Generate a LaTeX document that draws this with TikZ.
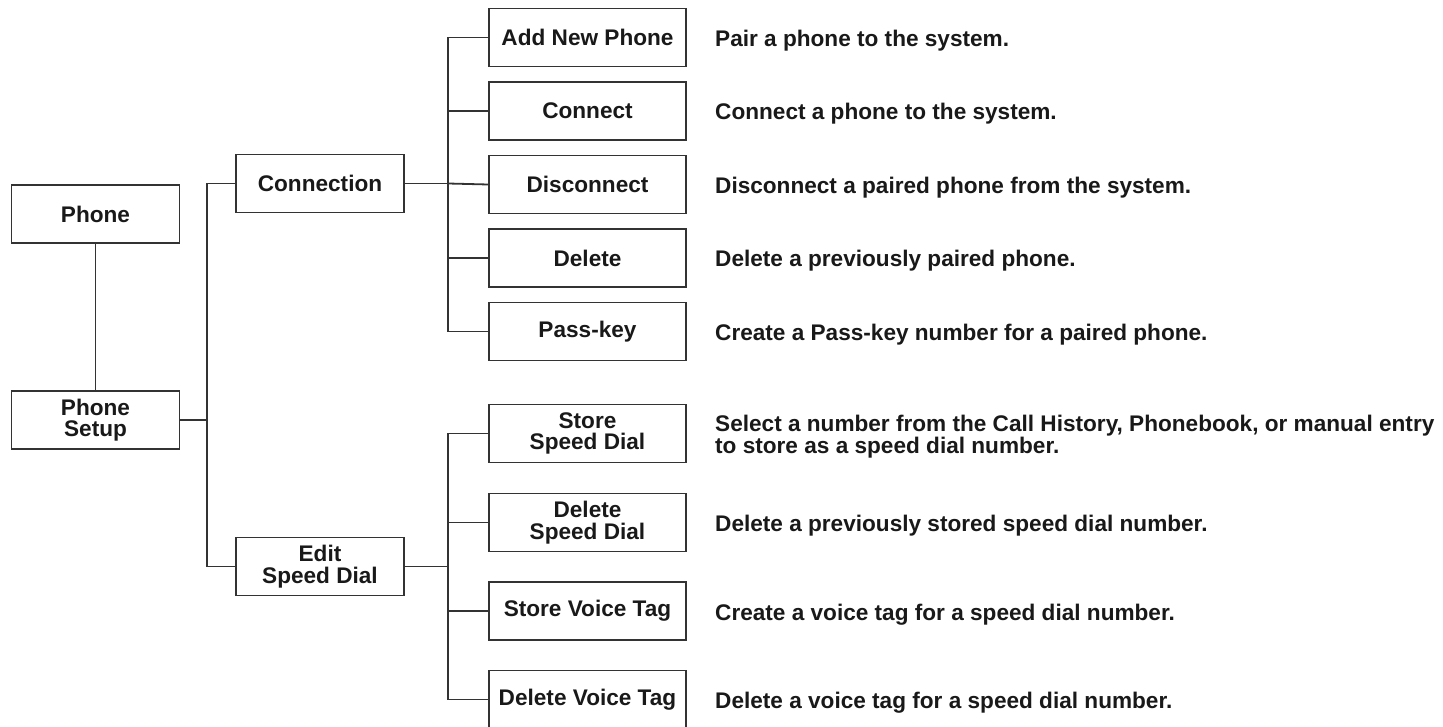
\documentclass[tikz,border=0pt]{standalone}
\usepackage{fontspec}
\setmainfont{Liberation Sans}
\begin{document}
\begin{tikzpicture}[x=1pt,y=-1pt,
  every node/.style={font=\bfseries\fontsize{22.6}{21.5}\selectfont, text=black!90},
  lbox/.style={draw=black!80, line width=1.8pt, minimum width=168pt, minimum height=58pt, align=center, inner sep=0pt},
  cbox/.style={draw=black!80, line width=1.8pt, minimum width=197pt, minimum height=58pt, align=center, inner sep=0pt},
  desc/.style={anchor=base west, align=left, inner sep=0pt},
  conn/.style={draw=black!80, line width=1.8pt}]
\useasboundingbox (0,0) rectangle (1443,727);

\node[lbox] (phone) at (95.5,214) {Phone};
\node[lbox] (setup) at (95.5,420) {Phone\\Setup};
\node[lbox] (cn) at (320,183.5) {Connection};
\node[lbox] (ed) at (320,566.5) {Edit\\Speed Dial};

\node[cbox] (c1) at (587.5,37.5) {Add New Phone};
\node[cbox] (c2) at (587.5,111) {Connect};
\node[cbox] (c3) at (587.5,184.5) {Disconnect};
\node[cbox] (c4) at (587.5,258) {Delete};
\node[cbox] (c5) at (587.5,331.5) {Pass-key};
\node[cbox] (e1) at (587.5,433.5) {Store\\Speed Dial};
\node[cbox] (e2) at (587.5,522.5) {Delete\\Speed Dial};
\node[cbox] (e3) at (587.5,611) {Store Voice Tag};
\node[cbox] (e4) at (587.5,699.5) {Delete Voice Tag};

\node[desc] (d1) at (715,47) {Pair a phone to the system.};
\node[desc] (d2) at (715,120) {Connect a phone to the system.};
\node[desc] (d3) at (715,193.5) {Disconnect a paired phone from the system.};
\node[desc] (d4) at (715,267) {Delete a previously paired phone.};
\node[desc] (d5) at (715,340.5) {Create a Pass-key number for a paired phone.};
\node[desc] (d6) at (715,453) {Select a number from the Call History, Phonebook, or manual entry\\to store as a speed dial number.};
\node[desc] (d7) at (715,531.5) {Delete a previously stored speed dial number.};
\node[desc] (d8) at (715,620) {Create a voice tag for a speed dial number.};
\node[desc] (d9) at (715,708.5) {Delete a voice tag for a speed dial number.};

\coordinate (t1) at (207,420);
\coordinate (t2) at (448,183.5);
\coordinate (t3) at (448,566.5);

\draw[conn] (phone.south) -- (setup.north);
\draw[conn] (setup.east) -- (t1);
\draw[conn] (t1) |- (cn.west);
\draw[conn] (t1) |- (ed.west);
\draw[conn] (cn.east) -- (t2);
\draw[conn] (t2) |- (c1.west);
\draw[conn] (t2) |- (c2.west);
\draw[conn] (t2) -- (c3.west);
\draw[conn] (t2) |- (c4.west);
\draw[conn] (t2) |- (c5.west);
\draw[conn] (ed.east) -- (t3);
\draw[conn] (t3) |- (e1.west);
\draw[conn] (t3) |- (e2.west);
\draw[conn] (t3) |- (e3.west);
\draw[conn] (t3) |- (e4.west);
\end{tikzpicture}
\end{document}
